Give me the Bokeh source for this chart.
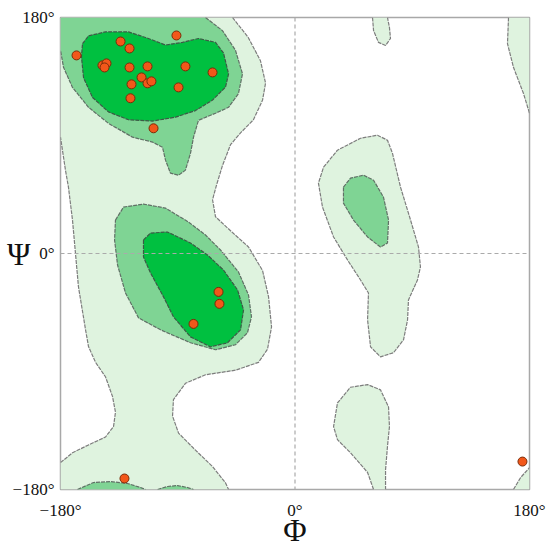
from bokeh.plotting import figure
from bokeh.models import Span, FixedTicker, Range1d
from bokeh.embed import file_html
from bokeh.resources import INLINE

# ---- residues (phi, psi in degrees) ----
res_phi = [-167.7, -133.9, -127.0, -91.0, -147.8, -144.7, -146.2, -127.0, -113.2, -84.1,
           -63.3, -117.8, -113.2, -110.2, -125.5, -89.4, -126.3, -108.6,
           -58.7, -58.0, -77.9, -130.9, 174.6]
res_psi = [151.1, 161.7, 156.4, 166.3, 143.5, 145.0, 141.9, 141.9, 142.7, 142.7,
           138.1, 134.3, 129.8, 131.3, 129.0, 126.7, 118.4, 95.5,
           -29.3, -38.4, -53.7, -171.6, -158.7]

# ---- allowed (light) region outlines ----
allowed_left_right_edge = [(-48, 180), (-36, 165), (-26.5, 147), (-22.6, 130), (-24.9, 117), (-31.9, 102),
                           (-41.8, 92), (-49.5, 83), (-55.7, 67), (-60.3, 52), (-63.3, 41), (-61, 28),
                           (-48, 16), (-35.7, 5), (-24.9, -13), (-20.3, -33), (-18, -56), (-21.1, -73),
                           (-28, -83), (-45.7, -89), (-68.7, -92.5), (-84.1, -99), (-93.3, -111.5),
                           (-94, -124), (-89.4, -137), (-76.4, -150), (-63.3, -162.5), (-53.3, -175), (-51, -180)]
allowed_left_left_edge = [(-180, -159.5), (-170.8, -152), (-158.5, -146), (-145.5, -140), (-139.3, -132),
                          (-137.8, -121), (-140.1, -109), (-145.5, -94), (-153.1, -83), (-158.5, -71),
                          (-160.8, -58), (-166.2, -25.5), (-168.5, 0), (-170.8, 25.5), (-173.9, 50.6),
                          (-176.2, 63.6), (-178.5, 78.8), (-180, 88.7)]
allowed_lalpha = [(21.9, 65.8), (32.6, 78.8), (50.3, 87.9), (63.3, 90.2), (71, 86.4), (74.8, 76.5),
                  (81, 50.6), (88.7, 25.5), (94.8, 4.9), (96.3, -10.3), (94, -20.2), (87.1, -35.4),
                  (86.4, -50.6), (83.3, -65.8), (75.6, -75.7), (65.6, -78.8), (58, -71.2), (55.7, -50.6),
                  (56.4, -30.1), (50.3, -20.2), (40.3, -4.9), (29.6, 12.6), (21.1, 35.4), (18, 53.7)]
allowed_low_mid = [(60.3, -180), (55.7, -167), (42.6, -152), (32.6, -142), (29.6, -132), (32.6, -114),
                   (42.6, -102), (55.7, -100), (65.6, -104), (71.8, -117), (72.5, -132), (71, -147),
                   (69.5, -165), (69.5, -180)]
allowed_top_mid = [(59.5, 180), (60.3, 170), (64.1, 161), (69.5, 158.7), (73.3, 164), (72.5, 172.4), (71, 180)]
allowed_right_top = [(163.9, 180), (163.1, 160), (167.7, 142), (175.4, 122), (180, 107)]
allowed_right_bottom = [(167.7, -180), (173.1, -171), (180, -163.3)]

# ---- favoured (medium) region outlines ----
fav_beta = [(-68.7, 180), (-55.7, 170), (-45.7, 155), (-40.3, 137), (-43.4, 122), (-51, 111.5), (-61, 107),
            (-74.1, 101.6), (-77.9, 88.7), (-80.2, 76.5), (-84.1, 63.6), (-89.4, 59.7), (-95.6, 61.3),
            (-99.4, 71.2), (-101.7, 81), (-109.4, 85), (-124.7, 88.7), (-143.2, 99.3), (-158.5, 111.5),
            (-170.8, 126.7), (-177.7, 142), (-180, 155)]
fav_bump1 = [(-167, -180), (-154.7, -174.7), (-141.6, -174), (-128.6, -175.4), (-118.6, -178.5), (-114.8, -180)]
fav_bump2 = [(-105.5, -180), (-97.9, -177.7), (-90.2, -177), (-82.5, -178.5), (-77.9, -180)]
fav_alpha = [(-137.8, 25.5), (-131.6, 35.4), (-116.3, 37.7), (-99.4, 34.6), (-81.7, 24), (-68.7, 14.1),
             (-57.2, 2.7), (-43.4, -14.1), (-35.7, -31.6), (-33.4, -48.3), (-36.5, -60.5), (-45.7, -69.6),
             (-61, -73.4), (-80.2, -68.1), (-103.2, -58.2), (-120.1, -49.1), (-130.1, -30.1),
             (-136.2, -8.8), (-138.5, 10.3)]
fav_lalpha = [(37.2, 50.6), (42.6, 57.5), (52.6, 59.7), (60.3, 55.9), (67.9, 43), (71.8, 25.5), (71, 8),
              (65.6, 4.9), (55.7, 12.6), (44.9, 25.5), (37.2, 38.4)]

# ---- core (dark) region outlines ----
core_beta = [(-163.1, 160), (-158.5, 166), (-145.5, 169), (-127.8, 169), (-112.5, 164), (-99.4, 159),
             (-86.4, 161), (-74.1, 164), (-61, 161), (-54.9, 153), (-51, 137), (-53.3, 127), (-63.3, 117),
             (-76.4, 109), (-91.7, 104), (-109.4, 101), (-127.8, 102), (-143.2, 108), (-155.4, 119),
             (-162.3, 134), (-163.9, 150)]
core_alpha = [(-116.3, 10.3), (-110.9, 15.6), (-97.9, 16.4), (-80.2, 8), (-67.2, -1.1), (-54.9, -12.6),
              (-44.1, -27.8), (-39.5, -43), (-41.8, -58.2), (-51.8, -68.1), (-64.9, -71.2), (-80.2, -63.6),
              (-93.3, -48.3), (-100.9, -33.1), (-110.9, -14.8), (-116.3, -2.7)]

tick_vals = [-180, 0, 180]
tick_text = ["\u2212180\u00b0", "0\u00b0", "180\u00b0"]


def xs(pts):
    return [q[0] for q in pts]


def ys(pts):
    return [q[1] for q in pts]


def closed(pts):
    return pts + [pts[0]]


LIGHT = "#dff3df"
MED = "#7fd494"
DARK = "#00c040"

p = figure(width=548, height=550, x_range=Range1d(-180, 180), y_range=Range1d(-180, 180),
           output_backend="svg", toolbar_location=None,
           min_border_left=60, min_border_right=19, min_border_top=17, min_border_bottom=60)
p.background_fill_color = "white"
p.border_fill_color = "white"
p.outline_line_color = "#a8a8a8"
p.outline_line_width = 1.5
p.grid.visible = False

light_fills = [allowed_left_right_edge + [(-180, -180)] + allowed_left_left_edge + [(-180, 180)],
               allowed_lalpha, allowed_low_mid, allowed_top_mid,
               allowed_right_top + [(180, 180)], allowed_right_bottom + [(180, -180)]]
light_lines = [allowed_left_right_edge, allowed_left_left_edge, closed(allowed_lalpha), allowed_low_mid,
               allowed_top_mid, allowed_right_top, allowed_right_bottom]
med_fills = [fav_beta + [(-180, 180)], fav_bump1, fav_bump2, fav_alpha, fav_lalpha]
med_lines = [fav_beta, fav_bump1, fav_bump2, closed(fav_alpha), closed(fav_lalpha)]
dark_fills = [core_beta, core_alpha]
dark_lines = [closed(core_beta), closed(core_alpha)]

for fills, lines, col, lcol in [(light_fills, light_lines, LIGHT, "#7d7d7d"),
                                (med_fills, med_lines, MED, "#607066"),
                                (dark_fills, dark_lines, DARK, "#3c5a46")]:
    p.patches([xs(f) for f in fills], [ys(f) for f in fills], fill_color=col, line_alpha=0)
    p.multi_line([xs(l) for l in lines], [ys(l) for l in lines], line_color=lcol,
                 line_width=1.2, line_dash="4 1")

p.add_layout(Span(location=0, dimension="height", line_color="#aaaaaa", line_dash="4 3", line_width=1.2))
p.add_layout(Span(location=0, dimension="width", line_color="#aaaaaa", line_dash="4 3", line_width=1.2))

p.scatter(res_phi, res_psi, size=9, fill_color="#f2571a", line_color="#7a2c08", line_width=1)

for ax in (p.xaxis[0], p.yaxis[0]):
    ax.ticker = FixedTicker(ticks=tick_vals)
    ax.major_label_overrides = dict(zip(tick_vals, tick_text))
    ax.axis_line_color = None
    ax.major_tick_line_color = None
    ax.minor_tick_line_color = None
    ax.major_label_text_font = "Liberation Serif"
    ax.major_label_text_font_size = "17px"
    ax.major_label_text_color = "#111111"
    ax.axis_label_text_font = "Liberation Serif"
    ax.axis_label_text_font_size = "32px"
    ax.axis_label_text_font_style = "normal"
    ax.axis_label_text_color = "#111111"

p.xaxis.major_label_standoff = 5
p.yaxis.major_label_standoff = 0
p.xaxis.axis_label = "\u03a6"
p.xaxis.axis_label_standoff = -11
p.yaxis.axis_label = "\u03a8"
p.yaxis.axis_label_orientation = "horizontal"
p.yaxis.axis_label_standoff = -21

open("out.html", "w").write(file_html(p, INLINE))
